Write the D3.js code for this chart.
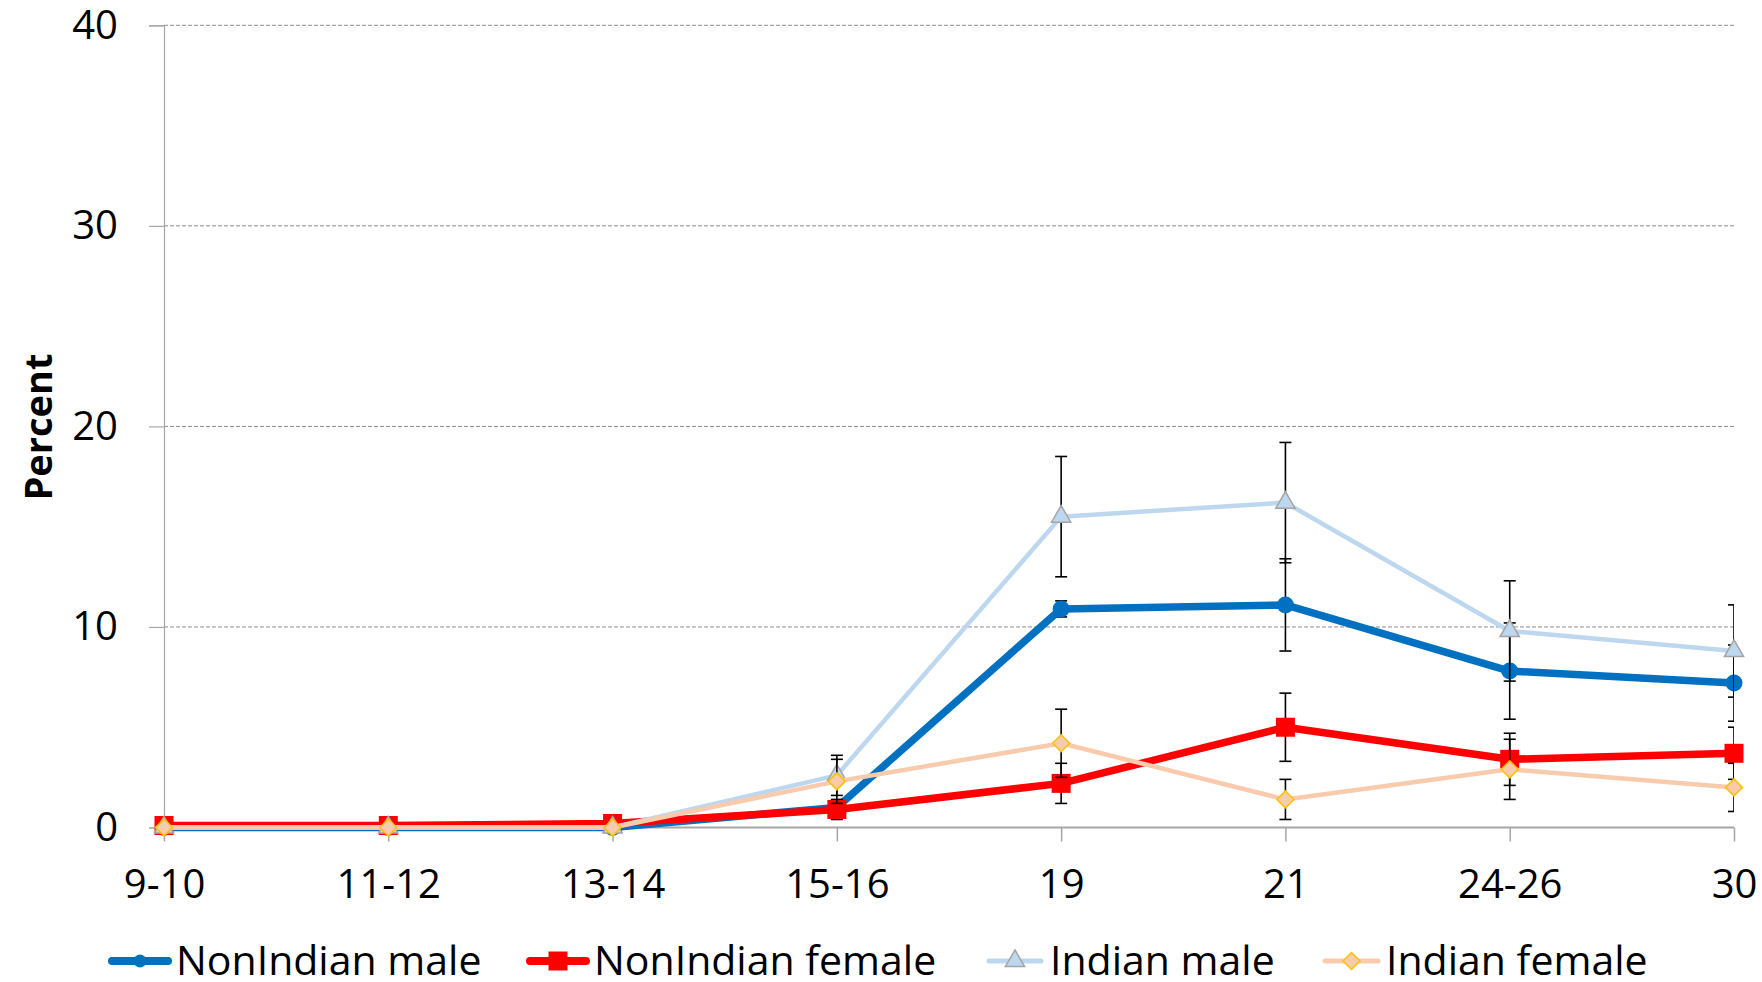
<!DOCTYPE html>
<html>
<head>
<meta charset="utf-8">
<script src="https://cdn.jsdelivr.net/npm/d3@7"></script>
<style>
  html, body { margin: 0; padding: 0; background: #fff; }
  svg { display: block; font-family: "Open Sans", "Noto Sans", sans-serif; }
</style>
</head>
<body>
<svg id="chart" width="1762" height="982"></svg>
<script>
// Age groups along the x axis
const categories = ["9-10", "11-12", "13-14", "15-16", "19", "21", "24-26", "30"];

// Percent by group
const nonIndianMale   = [0, 0, 0, 1.0, 10.9, 11.1, 7.8, 7.2];
const nonIndianFemale = [0.1, 0.1, 0.2, 0.9, 2.2, 5.0, 3.4, 3.7];
const indianMale      = [0, 0, 0, 2.6, 15.5, 16.2, 9.8, 8.8];
const indianFemale    = [0, 0, 0, 2.3, 4.2, 1.4, 2.9, 2.0];

// Error bar half-widths (percent)
const nonIndianMaleErr   = [0, 0, 0, 0.3, 0.4, 2.3, 2.4, 1.9];
const nonIndianFemaleErr = [0, 0, 0, 0.5, 1.0, 1.7, 1.3, 1.3];
const indianMaleErr      = [0, 0, 0, 1.0, 3.0, 3.0, 2.5, 2.3];
const indianFemaleErr    = [0, 0, 0, 1.1, 1.7, 1.0, 1.5, 1.2];

const yTicks = [0, 10, 20, 30, 40];
const yLabel = "Percent";

const svg = d3.select("#chart");
const plot = { left: 164, right: 1734, top: 25.3, bottom: 827.5 };

const x = d3.scalePoint().domain(categories).range([plot.left, plot.right]);
const y = d3.scaleLinear().domain([0, 40]).range([plot.bottom, plot.top]);

// Diamond drawn as a square turned 45 degrees
const diamond = {
  draw(ctx, size) {
    const r = Math.sqrt(size) / 2;
    ctx.moveTo(0, -r); ctx.lineTo(r, 0); ctx.lineTo(0, r); ctx.lineTo(-r, 0); ctx.closePath();
  }
};

const series = [
  { name: "NonIndian male",   values: nonIndianMale,   err: nonIndianMaleErr,
    line: "#0070C0", width: 7.5, symbol: d3.symbolCircle, size: Math.PI * 8.5 * 8.5,
    fill: "#0070C0", stroke: "none" },
  { name: "NonIndian female", values: nonIndianFemale, err: nonIndianFemaleErr,
    line: "#FF0000", width: 7.5, symbol: d3.symbolSquare, size: 19 * 19,
    fill: "#FF0000", stroke: "none" },
  { name: "Indian male",      values: indianMale,      err: indianMaleErr,
    line: "#BDD7EE", width: 4.5, symbol: d3.symbolTriangle, size: 160,
    fill: "#BDD7EE", stroke: "#A5A5A5" },
  { name: "Indian female",    values: indianFemale,    err: indianFemaleErr,
    line: "#F8CBAD", width: 4.5, symbol: diamond, size: 17 * 17,
    fill: "#F8CBAD", stroke: "#FFC000" }
];

svg.append("defs").append("clipPath").attr("id", "plotClip")
  .append("rect")
  .attr("x", plot.left - 20).attr("y", 0)
  .attr("width", plot.right - plot.left + 20).attr("height", 982);

// Dashed horizontal gridlines
svg.append("g")
  .selectAll("line")
  .data(yTicks.filter(d => d > 0))
  .join("line")
  .attr("x1", plot.left).attr("x2", plot.right)
  .attr("y1", d => y(d)).attr("y2", d => y(d))
  .attr("stroke", "#8c8c8c").attr("stroke-width", 1)
  .attr("stroke-dasharray", "4,2");

// Y axis
const yAxis = svg.append("g")
  .attr("transform", `translate(${plot.left},0)`)
  .call(d3.axisLeft(y).tickValues(yTicks).tickSize(15).tickPadding(31).tickFormat(d3.format("d")));
yAxis.select(".domain").attr("stroke", "#a6a6a6").attr("stroke-width", 1.2);
yAxis.selectAll(".tick line").attr("stroke", "#a6a6a6").attr("stroke-width", 1.2);
yAxis.selectAll(".tick text")
  .attr("font-size", 40).attr("fill", "#000")
  .attr("font-family", "'Open Sans', sans-serif");

// X axis
const xAxis = svg.append("g")
  .attr("transform", `translate(0,${plot.bottom})`)
  .call(d3.axisBottom(x).tickSize(14).tickPadding(28));
xAxis.select(".domain").attr("stroke", "#a6a6a6").attr("stroke-width", 2)
  .attr("d", `M${plot.left},0H${plot.right}`);
xAxis.selectAll(".tick line").attr("stroke", "#a6a6a6").attr("stroke-width", 1.5);
xAxis.selectAll(".tick text")
  .attr("font-size", 40).attr("fill", "#000")
  .attr("font-family", "'Open Sans', sans-serif");

// Y axis title
svg.append("text")
  .attr("transform", `translate(37,${427}) rotate(-90)`)
  .attr("text-anchor", "middle")
  .attr("dominant-baseline", "central")
  .attr("font-size", 38).attr("font-weight", "bold")
  .text(yLabel);

const lineGen = d3.line().x((d, i) => x(categories[i])).y(d => y(d));

series.forEach(s => {
  const g = svg.append("g");

  // error bars
  const eb = g.append("g").attr("clip-path", "url(#plotClip)");
  s.values.forEach((v, i) => {
    const e = s.err[i];
    if (!e) return;
    const cx = x(categories[i]);
    const y1 = y(v + e), y0 = y(Math.max(0, v - e));
    eb.append("line").attr("x1", cx).attr("x2", cx).attr("y1", y1).attr("y2", y0)
      .attr("stroke", "#000").attr("stroke-width", 1.6);
    [y1, y0].forEach(yy => eb.append("line")
      .attr("x1", cx - 6).attr("x2", cx + 6).attr("y1", yy).attr("y2", yy)
      .attr("stroke", "#000").attr("stroke-width", 1.6));
  });

  g.append("path")
    .attr("d", lineGen(s.values))
    .attr("fill", "none").attr("stroke", s.line)
    .attr("stroke-width", s.width).attr("stroke-linejoin", "round");

  g.selectAll("path.marker")
    .data(s.values)
    .join("path")
    .attr("class", "marker")
    .attr("transform", (d, i) => `translate(${x(categories[i])},${y(d)})`)
    .attr("d", d3.symbol().type(s.symbol).size(s.size))
    .attr("fill", s.fill)
    .attr("stroke", s.stroke).attr("stroke-width", 1.5);
});

// Legend
const legendItems = [
  { x0: 112, x1: 168, tx: 176 },
  { x0: 530, x1: 586, tx: 594 },
  { x0: 989, x1: 1041, tx: 1050 },
  { x0: 1325, x1: 1378, tx: 1386 }
];
const legendY = 961;
const legend = svg.append("g");
series.forEach((s, i) => {
  const p = legendItems[i];
  legend.append("line")
    .attr("x1", p.x0).attr("x2", p.x1).attr("y1", legendY).attr("y2", legendY)
    .attr("stroke", s.line).attr("stroke-width", s.width + 0.5).attr("stroke-linecap", "round");
  legend.append("path")
    .attr("transform", `translate(${(p.x0 + p.x1) / 2},${legendY})`)
    .attr("d", d3.symbol().type(s.symbol).size(s === series[0] ? Math.PI * 6.5 * 6.5 : s.size))
    .attr("fill", s.fill).attr("stroke", s.stroke).attr("stroke-width", 1.5);
  legend.append("text")
    .attr("x", p.tx).attr("y", legendY)
    .attr("dy", "0.35em")
    .attr("font-size", 41)
    .text(s.name);
});
</script>
</body>
</html>
